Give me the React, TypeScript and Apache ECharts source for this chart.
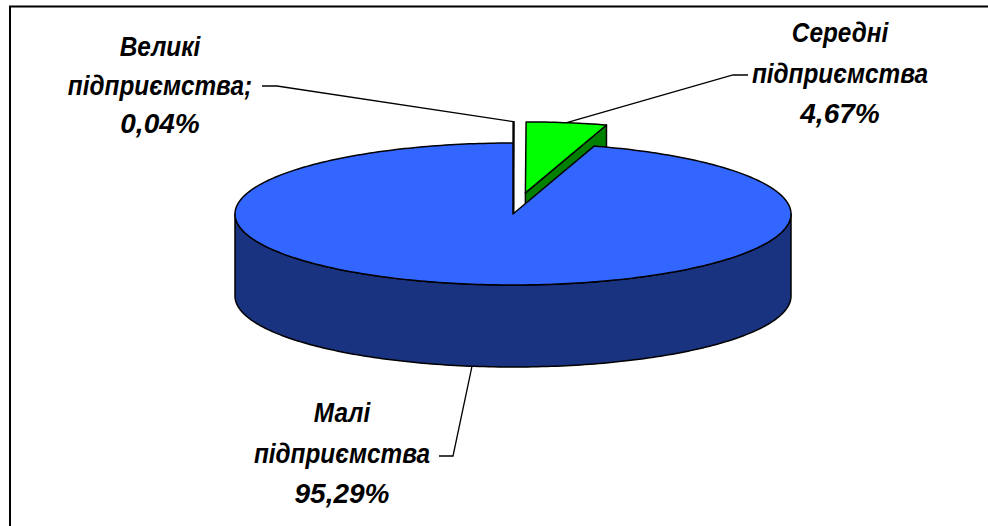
import React, { useEffect, useRef } from "react";
import * as echarts from "echarts";

// ---- data ----
const categories = ["Великі підприємства", "Середні підприємства", "Малі підприємства"];
const values = [0.04, 4.67, 95.29];
const exploded = [true, true, false];
const separators = [";", "", ""];

// ---- styles ----
const topColors = ["#FFFFFF", "#00FF00", "#3366FF"];
const sideColors = ["#FFFFFF", "#008000", "#1A3380"];

// ---- layout (pixels) ----
const CX = 513;
const CY = 214;
const RX = 278;
const RY = 71;
const DEPTH = 82;
const EXPLODE = 0.3;
const FONT_SIZE = 28;
const NAME_SCALE_X = 0.87;
const labelPos = [
  { x: 160, lines: [46, 85, 123], elbow: [277, 86], end: [262, 86] },
  { x: 840, lines: [32, 73, 113], elbow: [733, 75], end: [748, 75] },
  { x: 342, lines: [412, 453, 493], elbow: [453, 456], end: [439, 456] },
];

const total = values.reduce((a, b) => a + b, 0);
const cum: number[] = [];
values.reduce((acc, v, i) => {
  cum[i] = acc;
  return acc + v;
}, 0);

function sliceGeom(i: number, v: number) {
  const a0 = (cum[i] / total) * Math.PI * 2;
  const a1 = ((cum[i] + v) / total) * Math.PI * 2;
  const mid = (a0 + a1) / 2;
  const off = exploded[i] ? EXPLODE : 0;
  const ox = CX + off * RX * Math.sin(mid);
  const oy = CY - off * RY * Math.cos(mid);
  const P = (t: number, dz = 0): number[] => [ox + RX * Math.sin(t), oy - RY * Math.cos(t) + dz];
  return { a0, a1, mid, ox, oy, P };
}

function arcPts(P: (t: number, dz?: number) => number[], s: number, e: number, dz = 0) {
  const n = Math.max(2, Math.ceil(((e - s) * 180) / Math.PI));
  const pts: number[][] = [];
  for (let k = 0; k <= n; k++) pts.push(P(s + ((e - s) * k) / n, dz));
  return pts;
}

const stroke = { stroke: "#000", lineWidth: 1.5, lineJoin: "round" as const };

function renderSlice(params: any, api: any) {
  const i = params.dataIndex;
  const v = api.value(0);
  const { a0, a1, ox, oy, P } = sliceGeom(i, v);
  const children: any[] = [];
  // radial faces that face the viewer
  if (Math.sin(a0) < -1e-6) {
    children.push({
      type: "polygon",
      shape: { points: [[ox, oy], P(a0), P(a0, DEPTH), [ox, oy + DEPTH]] },
      style: { fill: sideColors[i], ...stroke },
    });
  }
  if (Math.sin(a1) > 1e-6) {
    children.push({
      type: "polygon",
      shape: { points: [[ox, oy], P(a1), P(a1, DEPTH), [ox, oy + DEPTH]] },
      style: { fill: sideColors[i], ...stroke },
    });
  }
  // outer (front) side
  const s = Math.max(a0, Math.PI / 2);
  const e = Math.min(a1, (Math.PI * 3) / 2);
  if (e > s) {
    const topArc = arcPts(P, s, e, 0);
    const botArc = arcPts(P, s, e, DEPTH).reverse();
    children.push({
      type: "polygon",
      shape: { points: topArc.concat(botArc) },
      style: { fill: sideColors[i], ...stroke },
    });
  }
  // top face
  children.push({
    type: "polygon",
    shape: { points: [[ox, oy]].concat(arcPts(P, a0, a1, 0)) },
    style: { fill: topColors[i], ...stroke },
  });
  return { type: "group", children };
}

function fmt(v: number) {
  return v.toFixed(2).replace(".", ",") + "%";
}

function textLine(text: string, x: number, y: number, sx: number) {
  return {
    type: "text",
    x,
    y,
    scaleX: sx,
    style: {
      text,
      fill: "#000",
      fontSize: FONT_SIZE,
      fontWeight: "bold",
      fontStyle: "italic",
      fontFamily: '"Liberation Sans", Arial, sans-serif',
      align: "center",
      verticalAlign: "middle",
    },
  };
}

function renderLabel(params: any, api: any) {
  const i = params.dataIndex;
  const v = api.value(0);
  const { mid, P } = sliceGeom(i, v);
  const front = Math.cos(mid) < 0;
  const start = front ? P(mid, DEPTH) : P(mid, 0);
  const lp = labelPos[i];
  const words = categories[i].split(" ");
  return {
    type: "group",
    children: [
      {
        type: "polyline",
        shape: { points: [start, lp.elbow, lp.end] },
        style: { stroke: "#000", lineWidth: 1.3, fill: "none" },
      },
      textLine(words[0], lp.x, lp.lines[0], NAME_SCALE_X),
      textLine(words[1] + separators[i], lp.x, lp.lines[1], NAME_SCALE_X),
      textLine(fmt(v), lp.x, lp.lines[2], 1),
    ],
  };
}

export default function App() {
  const ref = useRef<HTMLDivElement>(null);
  useEffect(() => {
    if (!ref.current) return;
    const chart = echarts.init(ref.current, undefined, { renderer: "svg" });
    const data = values.map((v, i) => ({ name: categories[i], value: [v, i] }));
    chart.setOption({
      animation: false,
      backgroundColor: "#FFFFFF",
      graphic: [
        {
          type: "rect",
          silent: true,
          shape: { x: 10, y: 6.5, width: 1200, height: 800 },
          style: { fill: "none", stroke: "#000", lineWidth: 2 },
        },
      ],
      series: [
        { type: "custom", coordinateSystem: "none", data, renderItem: renderSlice, z: 2 },
        { type: "custom", coordinateSystem: "none", data, renderItem: renderLabel, z: 3 },
      ],
    });
    return () => chart.dispose();
  }, []);
  return (
    <div
      ref={ref}
      style={{ position: "fixed", left: 0, top: 0, width: 988, height: 526, background: "#fff" }}
    />
  );
}
